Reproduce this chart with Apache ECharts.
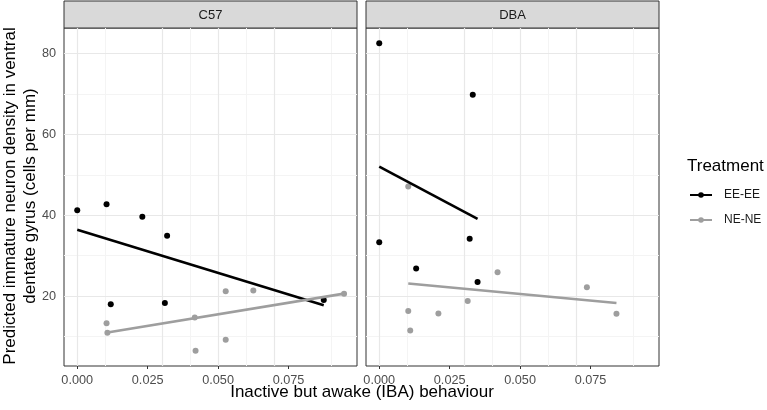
<!DOCTYPE html>
<html>
<head>
<meta charset="utf-8">
<script src="https://cdn.jsdelivr.net/npm/echarts@6/dist/echarts.min.js"></script>
<style>
  html, body { margin: 0; padding: 0; background: #fff; }
  #main { width: 767px; height: 410px; }
</style>
</head>
<body>
<div id="main"></div>
<script>
// data
var panels = ['C57', 'DBA'];
var treatments = ['EE-EE', 'NE-NE'];

var c57EEx = [0.000, 0.0104, 0.0231, 0.0319, 0.0119, 0.0311, 0.0875];
var c57EEy = [41.2, 42.7, 39.6, 34.9, 18.0, 18.3, 19.0];
var c57NEx = [0.0104, 0.0107, 0.0417, 0.0420, 0.0527, 0.0527, 0.0625, 0.0947];
var c57NEy = [13.3, 10.9, 14.7, 6.5, 21.2, 9.2, 21.4, 20.6];

var dbaEEx = [0.000, 0.0332, 0.000, 0.0321, 0.0131, 0.0349];
var dbaEEy = [82.5, 69.8, 33.3, 34.2, 26.8, 23.5];
var dbaNEx = [0.0103, 0.0103, 0.0110, 0.0210, 0.0314, 0.0420, 0.0737, 0.0842];
var dbaNEy = [47.1, 16.3, 11.5, 15.7, 18.8, 25.9, 22.2, 15.6];

// fitted lines (end points)
var c57EELineX = [0.000, 0.0875];
var c57EELineY = [36.4, 17.7];
var c57NELineX = [0.0107, 0.0947];
var c57NELineY = [11.0, 20.6];
var dbaEELineX = [0.000, 0.0349];
var dbaEELineY = [52.0, 39.1];
var dbaNELineX = [0.0103, 0.0842];
var dbaNELineY = [23.1, 18.3];

var xTicks = [0, 0.025, 0.05, 0.075];
var xMinor = [0.0125, 0.0375, 0.0625, 0.0875];
var yTicks = [20, 40, 60, 80];
var yMinor = [10, 30, 50, 70];

var xMin = -0.0047, xMax = 0.0993;
var yMin = 2.7, yMax = 86.3;

var colEE = '#000000';
var colNE = '#9e9e9e';
var font = '"Liberation Sans", Arial, sans-serif';

function zip(xs, ys) {
  return xs.map(function (x, i) { return [x, ys[i]]; });
}

var gridLines = [];
xMinor.forEach(function (v) { gridLines.push({ xAxis: v, lineStyle: { color: '#f4f4f4', width: 1, type: 'solid' } }); });
yMinor.forEach(function (v) { gridLines.push({ yAxis: v, lineStyle: { color: '#f4f4f4', width: 1, type: 'solid' } }); });
xTicks.forEach(function (v) { gridLines.push({ xAxis: v, lineStyle: { color: '#e8e8e8', width: 1.2, type: 'solid' } }); });
yTicks.forEach(function (v) { gridLines.push({ yAxis: v, lineStyle: { color: '#e8e8e8', width: 1.2, type: 'solid' } }); });

function lineSeries(name, idx, xs, ys, color) {
  return {
    name: name, type: 'line', xAxisIndex: idx, yAxisIndex: idx,
    data: zip(xs, ys), symbol: 'circle', symbolSize: 6, showSymbol: false,
    itemStyle: { color: color }, lineStyle: { color: color, width: 2.6 },
    z: 6, silent: true
  };
}
function pointSeries(name, idx, xs, ys, color) {
  return {
    name: name, type: 'scatter', xAxisIndex: idx, yAxisIndex: idx,
    data: zip(xs, ys), symbolSize: 6,
    itemStyle: { color: color, opacity: 1 }, z: 5
  };
}
function gridSeries(idx) {
  return {
    type: 'scatter', xAxisIndex: idx, yAxisIndex: idx, data: [], z: 1, silent: true,
    markLine: { z: 1, silent: true, symbol: 'none', animation: false, label: { show: false }, data: gridLines }
  };
}

function xAxisFor(idx) {
  return {
    type: 'value', gridIndex: idx, min: xMin, max: xMax,
    axisLine: { show: false },
    axisTick: { show: true, length: 3, lineStyle: { color: '#333' }, customValues: xTicks },
    axisLabel: { customValues: xTicks, color: '#4d4d4d', fontSize: 12.7, fontFamily: font, margin: 8,
      formatter: function (v) { return v.toFixed(3); } },
    splitLine: { show: false }
  };
}
function yAxisFor(idx) {
  return {
    type: 'value', gridIndex: idx, min: yMin, max: yMax,
    axisLine: { show: false },
    axisTick: { show: idx === 0, length: 3, lineStyle: { color: '#333' }, customValues: yTicks },
    axisLabel: { show: idx === 0, customValues: yTicks, color: '#4d4d4d', fontSize: 12.7, fontFamily: font, margin: 8 },
    splitLine: { show: false }
  };
}

var chart = echarts.init(document.getElementById('main'));
var option = {
  animation: false,
  backgroundColor: '#ffffff',
  textStyle: { fontFamily: font },
  grid: [
    { left: 64, top: 28, width: 293, height: 338, show: true, backgroundColor: '#fff', borderColor: '#333', borderWidth: 1 },
    { left: 366, top: 28, width: 293, height: 338, show: true, backgroundColor: '#fff', borderColor: '#333', borderWidth: 1 }
  ],
  xAxis: [xAxisFor(0), xAxisFor(1)],
  yAxis: [yAxisFor(0), yAxisFor(1)],
  legend: {
    data: treatments, orient: 'vertical', left: 689, top: 188, padding: 0,
    itemWidth: 22, itemHeight: 7, itemGap: 11,
    textStyle: { fontSize: 12, lineHeight: 14, color: '#1a1a1a', fontFamily: font, padding: [0, 0, 0, 7] }
  },
  graphic: [
    { type: 'rect', shape: { x: 64, y: 1, width: 293, height: 27 }, style: { fill: '#d9d9d9', stroke: '#333', lineWidth: 1 } },
    { type: 'text', x: 210.5, y: 15, style: { text: panels[0], font: '13px ' + font, fill: '#1a1a1a', textAlign: 'center', textVerticalAlign: 'middle' } },
    { type: 'rect', shape: { x: 366, y: 1, width: 293, height: 27 }, style: { fill: '#d9d9d9', stroke: '#333', lineWidth: 1 } },
    { type: 'text', x: 512.5, y: 15, style: { text: panels[1], font: '13px ' + font, fill: '#1a1a1a', textAlign: 'center', textVerticalAlign: 'middle' } },
    { type: 'text', x: 362, y: 392, style: { text: 'Inactive but awake (IBA) behaviour', font: '17px ' + font, fill: '#000', textAlign: 'center', textVerticalAlign: 'middle' } },
    { type: 'text', x: 20, y: 196, rotation: Math.PI / 2,
      style: { text: 'Predicted immature neuron density in ventral\ndentate gyrus (cells per mm)', font: '17px ' + font, fill: '#000', textAlign: 'center', textVerticalAlign: 'middle', lineHeight: 20 } },
    { type: 'text', x: 687, y: 166, style: { text: 'Treatment', font: '17px ' + font, fill: '#000', textAlign: 'left', textVerticalAlign: 'middle' } }
  ],
  series: [
    lineSeries(treatments[0], 0, c57EELineX, c57EELineY, colEE),
    lineSeries(treatments[1], 0, c57NELineX, c57NELineY, colNE),
    lineSeries(treatments[0], 1, dbaEELineX, dbaEELineY, colEE),
    lineSeries(treatments[1], 1, dbaNELineX, dbaNELineY, colNE),
    pointSeries(treatments[0], 0, c57EEx, c57EEy, colEE),
    pointSeries(treatments[1], 0, c57NEx, c57NEy, colNE),
    pointSeries(treatments[0], 1, dbaEEx, dbaEEy, colEE),
    pointSeries(treatments[1], 1, dbaNEx, dbaNEy, colNE),
    gridSeries(0),
    gridSeries(1)
  ]
};
chart.setOption(option);
</script>
</body>
</html>
